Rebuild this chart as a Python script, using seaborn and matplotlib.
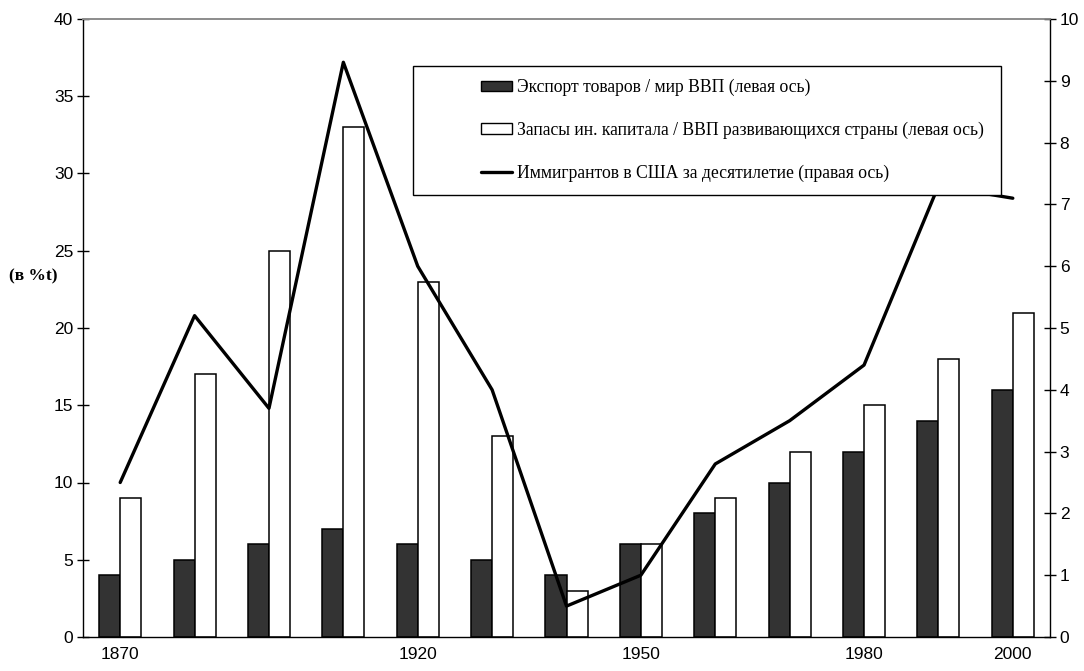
import matplotlib
matplotlib.use("Agg")
import matplotlib.pyplot as plt
from matplotlib.patches import Patch, Rectangle
from matplotlib.lines import Line2D
import numpy as np
import pandas as pd
import seaborn as sns

# 13 periods, only some of them labelled on the original axis
period_labels = ["1870", "", "", "", "1920", "", "", "1950", "", "", "1980", "", "2000"]
export_share = [4, 5, 6, 7, 6, 5, 4, 6, 8, 10, 12, 14, 16]          # left axis, %
capital_stock = [9, 17, 25, 33, 23, 13, 3, 6, 9, 12, 15, 18, 21]    # left axis, %
immigrants = [2.5, 5.2, 3.7, 9.3, 6.0, 4.0, 0.5, 1.0, 2.8, 3.5, 4.4, 7.3, 7.1]  # right axis

left_ticks = [0, 5, 10, 15, 20, 25, 30, 35, 40]
right_ticks = [0, 1, 2, 3, 4, 5, 6, 7, 8, 9, 10]

series_names = [
    "Экспорт товаров / мир ВВП (левая ось)",
    "Запасы ин. капитала / ВВП развивающихся страны (левая ось)",
    "Иммигрантов в США за десятилетие (правая ось)",
]

W, H = 1084, 671

period = np.arange(len(period_labels))
bars = pd.DataFrame({
    "period": np.concatenate([period, period]),
    "series": [series_names[0]] * len(period) + [series_names[1]] * len(period),
    "value": export_share + capital_stock,
})
line = pd.DataFrame({"period": period, "value": immigrants})

sns.set_theme(style="white")
plt.rcParams["font.family"] = ["Liberation Sans", "DejaVu Sans"]
plt.rcParams["text.color"] = "black"
plt.rcParams["xtick.color"] = "black"
plt.rcParams["ytick.color"] = "black"

fig = plt.figure(figsize=(W / 100, H / 100), dpi=100)
ax = fig.add_axes([83 / W, 1 - 637 / H, (1050 - 83) / W, (637 - 19) / H])

sns.barplot(
    data=bars, x="period", y="value", hue="series", ax=ax,
    hue_order=series_names[:2],
    palette={series_names[0]: "#333333", series_names[1]: "white"},
    width=0.565, saturation=1, edgecolor="black", linewidth=1.1,
    legend=False,
)

ax.set_ylim(0, 40)
ax.set_yticks(left_ticks)
ax.set_xlim(-0.5, len(period_labels) - 0.5)
ax.set_xticks(np.arange(-0.5, len(period_labels), 1))
ax.set_xticklabels([])
ax.set_xticks(period, minor=True)
ax.set_xticklabels(period_labels, minor=True)
ax.set_xlabel("")
ax.set_ylabel("")
ax.tick_params(axis="x", which="major", direction="inout", length=8, width=1, color="black")
ax.tick_params(axis="x", which="minor", length=0, pad=7, labelsize=12.5, labelcolor="black")
ax.tick_params(axis="y", direction="inout", length=8, width=1, color="black",
               labelsize=12.5, pad=3, labelcolor="black")

ax2 = ax.twinx()
sns.lineplot(data=line, x="period", y="value", ax=ax2, color="black", linewidth=2.4)
ax2.set_ylim(0, 10)
ax2.set_yticks(right_ticks)
ax2.set_ylabel("")
ax2.tick_params(axis="y", direction="inout", length=8, width=1, color="black",
                labelsize=12.5, pad=3, labelcolor="black")

for a in (ax, ax2):
    for s in a.spines.values():
        s.set_color("black")
        s.set_linewidth(1.0)
    a.spines["top"].set_color("#8c8c8c")
    a.spines["top"].set_linewidth(1.2)
ax.spines["right"].set_visible(False)
ax2.spines["left"].set_visible(False)
ax2.spines["bottom"].set_visible(False)

fig.text(33 / W, 1 - 276 / H, "(в %t)", ha="center", va="center",
         family="Liberation Serif", weight="bold", fontsize=12.5)

# legend box
box = Rectangle((413 / W, 1 - 195 / H), (1001 - 413) / W, (195 - 66) / H,
                transform=fig.transFigure, facecolor="white", edgecolor="black",
                linewidth=1.0, zorder=4, clip_on=False)
ax2.add_patch(box)

handles = [
    Patch(facecolor="#333333", edgecolor="black", linewidth=1.0),
    Patch(facecolor="white", edgecolor="black", linewidth=1.0),
    Line2D([], [], color="black", linewidth=2.4),
]
leg = ax2.legend(
    handles, series_names, loc="upper left",
    bbox_to_anchor=(481 / W, 1 - 79 / H), bbox_transform=fig.transFigure,
    frameon=False, borderpad=0, borderaxespad=0,
    prop={"family": "Liberation Serif", "size": 12.7},
    handlelength=1.76, handleheight=0.57, handletextpad=0.3, labelspacing=1.45,
)
leg.set_zorder(5)

fig.savefig("out.png", dpi=100)
